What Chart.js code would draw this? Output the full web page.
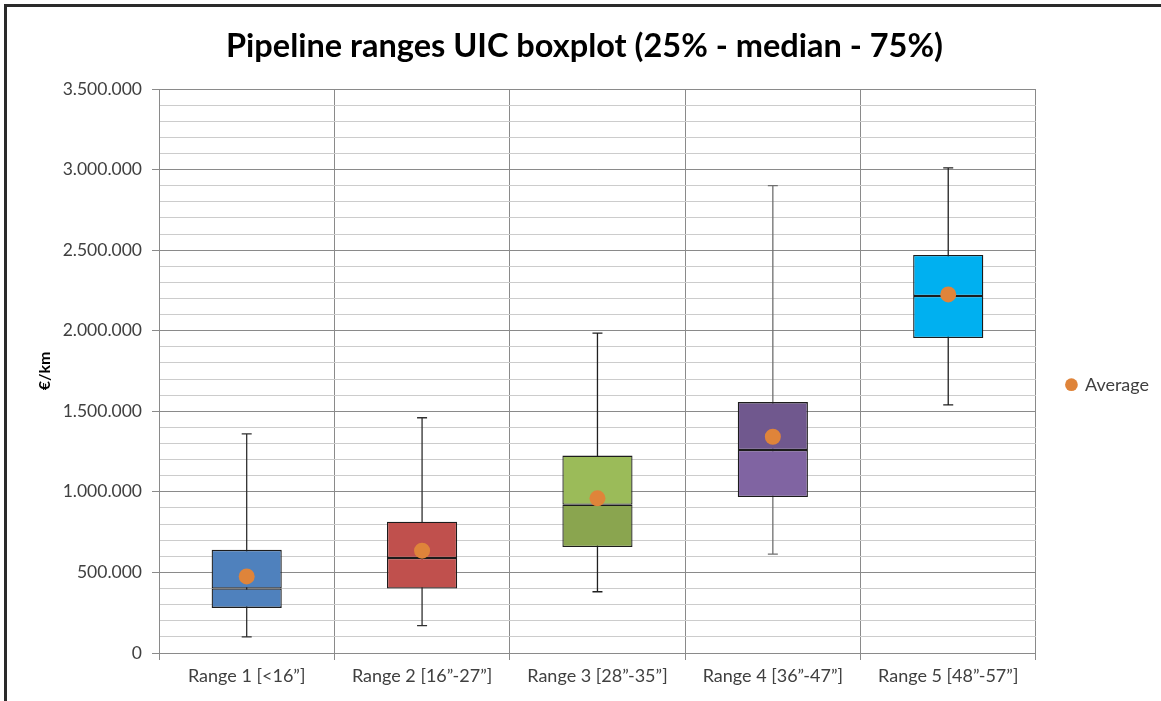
<!DOCTYPE html>
<html>
<head>
<meta charset="utf-8">
<script src="https://cdn.jsdelivr.net/npm/chart.js@4.4.1/dist/chart.umd.min.js"></script>
<style>
  html, body { margin: 0; padding: 0; background: #fff; }
  #wrap { position: relative; width: 1161px; height: 701px; }
  #frame { position: absolute; left: 4px; top: 4px; right: -10px; bottom: -10px;
           border-left: 3px solid #2a2a2a; border-top: 3px solid #2a2a2a; pointer-events: none; }
</style>
</head>
<body>
<div id="wrap">
  <canvas id="grafico" width="1161" height="701"></canvas>
  <div id="frame"></div>
</div>
<script>
// Datos (€/km)
const categorias = ['Range 1 [<16\u201D]', 'Range 2 [16\u201D-27\u201D]', 'Range 3 [28\u201D-35\u201D]', 'Range 4 [36\u201D-47\u201D]', 'Range 5 [48\u201D-57\u201D]'];
const minimos  = [100000, 170000, 380000, 614000, 1540000];
const cuartil1 = [280000, 400000, 658000, 968000, 1955000];
const medianas = [400000, 590000, 920000, 1260000, 2215000];
const cuartil3 = [640000, 815000, 1225000, 1557000, 2470000];
const maximos  = [1360000, 1460000, 1985000, 2900000, 3010000];
const promedios = [475000, 635000, 960000, 1342000, 2225000];
const ticksY = [0, 500000, 1000000, 1500000, 2000000, 2500000, 3000000, 3500000];

// Colores
const coloresInferior = ['#4F81BD', '#C0504D', '#8AA54F', '#8064A2', '#00B0F0'];
const coloresSuperior = ['#4F81BD', '#C0504D', '#9BBB59', '#70588E', '#00B0F0'];
const coloresBigote = ['#303030', '#303030', '#202020', '#6f6f6f', '#202020'];

function formatoMiles(v) {
    return String(v).replace(/\B(?=(\d{3})+(?!\d))/g, '.');
}

// Plugin para dibujar los bigotes (min - max) con las escalas del gráfico
const bigotes = {
    id: 'bigotes',
    beforeDatasetsDraw(chart) {
        const ctx = chart.ctx;
        const x = chart.scales.x;
        const y = chart.scales.y;
        ctx.save();
        ctx.lineWidth = 1.3;
        categorias.forEach(function (c, i) {
            const px = x.getPixelForValue(i);
            const yMin = y.getPixelForValue(minimos[i]);
            const yMax = y.getPixelForValue(maximos[i]);
            ctx.strokeStyle = coloresBigote[i];
            ctx.beginPath();
            ctx.moveTo(px, yMax);
            ctx.lineTo(px, yMin);
            ctx.moveTo(px - 5, yMax);
            ctx.lineTo(px + 5, yMax);
            ctx.moveTo(px - 5, yMin);
            ctx.lineTo(px + 5, yMin);
            ctx.stroke();
        });
        ctx.restore();
    }
};

const ctx = document.getElementById('grafico').getContext('2d');
const grafico = new Chart(ctx, {
    type: 'bar',
    data: {
        labels: categorias,
        datasets: [
            {
                label: 'Q1-Mediana',
                data: cuartil1.map((q, i) => [q, medianas[i]]),
                backgroundColor: coloresInferior,
                borderColor: '#1c1c1c',
                borderWidth: 1.3,
                borderSkipped: false,
                grouped: false,
                barPercentage: 0.4,
                categoryPercentage: 1,
                order: 2
            },
            {
                label: 'Mediana-Q3',
                data: medianas.map((m, i) => [m, cuartil3[i]]),
                backgroundColor: coloresSuperior,
                borderColor: '#1c1c1c',
                borderWidth: 1.3,
                borderSkipped: false,
                grouped: false,
                barPercentage: 0.4,
                categoryPercentage: 1,
                order: 1
            },
            {
                type: 'line',
                label: 'Average',
                data: promedios,
                showLine: false,
                pointStyle: 'circle',
                pointRadius: 8,
                pointHoverRadius: 8,
                pointBackgroundColor: '#DF843A',
                pointBorderWidth: 0,
                backgroundColor: '#DF843A',
                borderColor: '#DF843A',
                order: 0
            }
        ]
    },
    options: {
        responsive: false,
        animation: false,
        layout: { padding: { left: 10, right: 2, top: 0, bottom: 0 } },
        plugins: {
            title: {
                display: true,
                text: 'Pipeline ranges UIC boxplot (25% - median - 75%)',
                color: '#000',
                font: { family: 'Lato', size: 32.5, weight: 'bold' },
                padding: { top: 27, bottom: 23 }
            },
            legend: {
                position: 'right',
                title: {
                    display: true,
                    text: ' ',
                    font: { family: 'Lato', size: 17 },
                    padding: { top: 24, bottom: 24 }
                },
                labels: {
                    filter: item => item.text === 'Average',
                    usePointStyle: true,
                    boxWidth: 9,
                    boxHeight: 9,
                    color: '#404040',
                    font: { family: 'Lato', size: 18 },
                    padding: 31
                }
            },
            tooltip: { enabled: false }
        },
        scales: {
            x: {
                grid: { color: '#8a8a8a', tickLength: 7, offset: true },
                border: { color: '#8a8a8a' },
                ticks: { color: '#404040', font: { family: 'Lato', size: 18 }, padding: 5, maxRotation: 0 },
                afterFit: function (scale) { scale.height = 48; }
            },
            y: {
                min: 0,
                max: 3500000,
                grid: {
                    color: c => (c.tick && c.tick.value % 500000 === 0) ? '#8a8a8a' : '#cccccc',
                    tickColor: c => (c.tick && c.tick.value % 500000 === 0) ? '#8a8a8a' : 'rgba(0,0,0,0)',
                    tickLength: 7
                },
                border: { color: '#8a8a8a' },
                ticks: {
                    stepSize: 100000,
                    autoSkip: false,
                    padding: 10,
                    color: '#404040',
                    font: { family: 'Lato', size: 17.5 },
                    callback: v => ticksY.includes(v) ? formatoMiles(v) : ''
                },
                title: {
                    display: true,
                    text: '\u20AC/km',
                    color: '#000',
                    font: { family: 'Lato', size: 16, weight: 'bold' },
                    padding: { top: 25, bottom: 0 }
                },
                afterFit: function (scale) { scale.width = 149; }
            }
        }
    },
    plugins: [bigotes]
});
</script>
</body>
</html>
